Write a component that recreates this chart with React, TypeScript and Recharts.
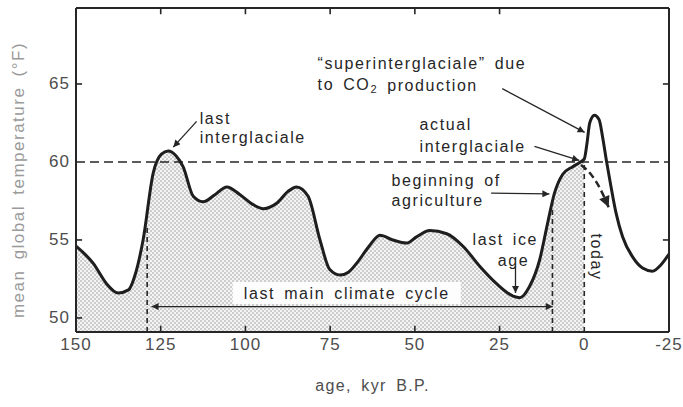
import React from "react";
import {
  ComposedChart,
  Area,
  Line,
  XAxis,
  YAxis,
  ReferenceLine,
  ReferenceDot,
} from "recharts";

// global temperature curve (age in kyr B.P., temp in °F)
const ages = [
  150, 144.9, 141, 137.6, 134.5, 132.5, 130.2, 127.2, 124.8, 122.8, 120.5,
  118.4, 115.4, 112.5, 109, 105.5, 101.6, 98, 94.7, 90.8, 87.5, 84.9, 81.5, 78,
  75.1, 72.1, 69.5, 67.2, 63.5, 60.3, 56.5, 52.5, 49.5, 45.6, 40.6, 35.8, 30.8,
  25.9, 21, 19, 16.2, 13.2, 10.8, 8.8, 6.4, 3.4, 1.5, 0, -0.8, -1.6, -3, -4.4,
  -5.4, -6.6, -7.9, -9.4, -11.3, -14.3, -17.2, -20.1, -22.6, -25,
];
const temps = [
  54.6, 53.5, 52.2, 51.6, 51.8, 52.8, 55.0, 59.3, 60.5, 60.7, 60.4, 59.7, 57.8,
  57.45, 57.9, 58.4, 57.9, 57.3, 57.0, 57.35, 58.1, 58.4, 57.8, 55.0, 53.1,
  52.75, 52.95, 53.5, 54.6, 55.3, 55.0, 54.8, 55.2, 55.6, 55.4, 54.6, 53.3,
  52.2, 51.4, 51.3, 52.0, 53.7, 56.1, 58.0, 59.2, 59.7, 59.95, 60.2, 61.2, 62.5,
  63.0, 62.7, 61.6, 60.0, 58.4, 56.7, 55.2, 53.9, 53.2, 53.0, 53.4, 54.1,
];

const xDomain = [-25, 150];
const xTicks = [150, 125, 100, 75, 50, 25, 0, -25];
const innerXTicks = [125, 100, 75, 50, 25];
const yTicks = [50, 55, 60, 65];
const leftTickMarks = [50, 55, 65];
const rightTickMarks = [55, 65];
const yDomain = [49.1, 69.87];
// inward tick length in data units (about 6 px each way)
const xTickLen = 1.8;
const yTickLen = 0.4;

// arrows (start -> tip)
const arrowLastInter = [
  { age: 114.4, temp: 62.6 },
  { age: 121.3, temp: 60.95 },
];
const arrowSuper = [
  { age: 24.2, temp: 64.7 },
  { age: -0.1, temp: 61.9 },
];
const arrowActual = [
  { age: 14.7, temp: 61.0 },
  { age: 1.5, temp: 60.1 },
];
const arrowAgri = [
  { age: 27.5, temp: 58.0 },
  { age: 10.3, temp: 57.95 },
];
const arrowIceAge = [
  { age: 20.3, temp: 53.3 },
  { age: 20.3, temp: 51.6 },
];
const cycleSpan = [
  { age: 127.7, temp: 50.73 },
  { age: 9.3, temp: 50.73 },
];
const naturalTrend = [
  { age: 0.96, temp: 59.8 },
  { age: -2.0, temp: 59.2 },
  { age: -4.4, temp: 58.4 },
  { age: -7.2, temp: 57.1 },
];

// dashed verticals: 130 kyr, end of ice age, today
const cycleStart = 129;
const cycleEnd = 9.4;
const today = 0;

const FONT = '"Liberation Sans", Arial, Helvetica, sans-serif';
const INK = "#262626";
const GREY = "#4d4d4d";

const data = ages.map((age, i) => ({
  age,
  temp: temps[i],
  past: age >= 0 ? temps[i] : null,
}));

function BottomTick(p: any) {
  return (
    <text
      x={p.x}
      y={p.y + 7}
      textAnchor="middle"
      dominantBaseline="central"
      fill={GREY}
      fontFamily={FONT}
      fontSize={17}
      letterSpacing={1}
    >
      {p.payload.value}
    </text>
  );
}

function LeftTick(p: any) {
  return (
    <text
      x={p.x}
      y={p.y}
      textAnchor="end"
      dominantBaseline="central"
      fill={GREY}
      fontFamily={FONT}
      fontSize={17}
      letterSpacing={1}
    >
      {p.payload.value}
    </text>
  );
}

function tickMark(key: string, seg: { x: number; y: number }[]) {
  return (
    <ReferenceLine key={key} segment={seg} stroke={INK} strokeWidth={1.6} ifOverflow="visible" />
  );
}

function noteText(
  vb: any,
  text: React.ReactNode,
  anchor: "start" | "middle" | "end",
  rotate: number,
  bgWidth: number
) {
  if (!vb) return null;
  const x = vb.x + (vb.width || 0) / 2;
  const y = vb.y + (vb.height || 0) / 2;
  return (
    <g>
      {bgWidth > 0 && (
        <rect x={x - bgWidth / 2} y={y - 11} width={bgWidth} height={22} fill="#fdfdfd" />
      )}
      <text
        x={x}
        y={y}
        textAnchor={anchor}
        dominantBaseline="central"
        transform={rotate ? `rotate(${rotate} ${x} ${y})` : undefined}
        fill={INK}
        fontFamily={FONT}
        fontSize={16}
        letterSpacing={1.6}
        wordSpacing={3}
      >
        {text}
      </text>
    </g>
  );
}

function note(
  key: string,
  age: number,
  temp: number,
  text: React.ReactNode,
  anchor: "start" | "middle" | "end" = "start",
  rotate = 0,
  bgWidth = 0
) {
  return (
    <ReferenceDot
      key={key}
      x={age}
      y={temp}
      r={0}
      fill="none"
      stroke="none"
      ifOverflow="visible"
      label={{ content: (p: any) => noteText(p.viewBox, text, anchor, rotate, bgWidth) }}
    />
  );
}

function arrow(key: string, pts: { age: number; temp: number }[], both = false) {
  return (
    <Line
      key={key}
      data={pts}
      dataKey="temp"
      type="linear"
      stroke={INK}
      strokeWidth={1.3}
      dot={false}
      activeDot={false}
      markerEnd="url(#head)"
      markerStart={both ? "url(#head)" : undefined}
      isAnimationActive={false}
    />
  );
}

export default function App() {
  return (
    <div style={{ width: 683, height: 407, background: "#fff" }}>
      <style>{`body{margin:0;background:#fff}`}</style>
      <ComposedChart
        width={683}
        height={407}
        data={data}
        margin={{ top: 7, right: 13, bottom: 0, left: 0 }}
      >
        <defs>
          <pattern id="stipple" width="4" height="4" patternUnits="userSpaceOnUse">
            <rect width="4" height="4" fill="#f4f4f4" />
            <circle cx="1" cy="1" r="0.7" fill="#8a8a8a" />
            <circle cx="3" cy="3" r="0.7" fill="#8a8a8a" />
          </pattern>
          <marker
            id="head"
            viewBox="0 0 10 10"
            refX="10"
            refY="5"
            markerWidth="10"
            markerHeight="7"
            markerUnits="userSpaceOnUse"
            orient="auto-start-reverse"
          >
            <path d="M0,0 L10,5 L0,10 Z" fill={INK} />
          </marker>
          <marker
            id="bighead"
            viewBox="0 0 10 10"
            refX="10"
            refY="5"
            markerWidth="14"
            markerHeight="11"
            markerUnits="userSpaceOnUse"
            orient="auto"
          >
            <path d="M0,0 L10,5 L0,10 Z" fill={INK} />
          </marker>
        </defs>

        <ReferenceLine y={60} stroke={INK} strokeWidth={1.5} strokeDasharray="9 5" />

        <Area
          dataKey="past"
          type="monotone"
          fill="url(#stipple)"
          fillOpacity={1}
          stroke="none"
          isAnimationActive={false}
        />

        <XAxis
          dataKey="age"
          type="number"
          domain={xDomain}
          reversed
          ticks={xTicks}
          interval={0}
          height={75}
          tickSize={0}
          tickMargin={5}
          tickLine={false}
          axisLine={{ stroke: INK, strokeWidth: 2 }}
          tick={<BottomTick />}
          label={{
            content: (p: any) =>
              p.viewBox ? (
                <text
                  x={p.viewBox.x + p.viewBox.width / 2}
                  y={p.viewBox.y + 53}
                  textAnchor="middle"
                  dominantBaseline="central"
                  fill={GREY}
                  fontFamily={FONT}
                  fontSize={16}
                  letterSpacing={1.3}
                  wordSpacing={4}
                >
                  age, kyr B.P.
                </text>
              ) : null,
          }}
        />
        <XAxis
          xAxisId="top"
          orientation="top"
          dataKey="age"
          type="number"
          domain={xDomain}
          reversed
          height={1}
          tick={false}
          tickLine={false}
          axisLine={{ stroke: INK, strokeWidth: 2 }}
        />
        <YAxis
          type="number"
          domain={yDomain}
          ticks={yTicks}
          interval={0}
          width={76}
          tickSize={0}
          tickMargin={6}
          tickLine={false}
          allowDataOverflow
          axisLine={{ stroke: INK, strokeWidth: 2 }}
          tick={<LeftTick />}
          label={{
            content: (p: any) =>
              p.viewBox ? (
                <text
                  x={18}
                  y={p.viewBox.y + p.viewBox.height / 2 + 10}
                  transform={`rotate(-90 18 ${p.viewBox.y + p.viewBox.height / 2 + 10})`}
                  textAnchor="middle"
                  dominantBaseline="central"
                  fill="#9a9a9a"
                  fontFamily={FONT}
                  fontSize={17}
                  letterSpacing={1.5}
                  wordSpacing={4}
                >
                  mean global temperature (°F)
                </text>
              ) : null,
          }}
        />
        <YAxis
          yAxisId="right"
          orientation="right"
          type="number"
          domain={yDomain}
          width={1}
          tick={false}
          tickLine={false}
          allowDataOverflow
          axisLine={{ stroke: INK, strokeWidth: 2 }}
        />

        {/* inward tick marks on all four sides */}
        {innerXTicks.map((t) =>
          tickMark(`b${t}`, [
            { x: t, y: yDomain[0] },
            { x: t, y: yDomain[0] + yTickLen },
          ])
        )}
        {innerXTicks.map((t) =>
          tickMark(`t${t}`, [
            { x: t, y: yDomain[1] },
            { x: t, y: yDomain[1] - yTickLen },
          ])
        )}
        {leftTickMarks.map((v) =>
          tickMark(`l${v}`, [
            { x: xDomain[1], y: v },
            { x: xDomain[1] - xTickLen, y: v },
          ])
        )}
        {rightTickMarks.map((v) =>
          tickMark(`r${v}`, [
            { x: xDomain[0], y: v },
            { x: xDomain[0] + xTickLen, y: v },
          ])
        )}

        <ReferenceLine
          segment={[
            { x: cycleStart, y: yDomain[0] },
            { x: cycleStart, y: 56.0 },
          ]}
          stroke={INK}
          strokeWidth={1.6}
          strokeDasharray="5 4"
        />
        <ReferenceLine
          segment={[
            { x: cycleEnd, y: yDomain[0] },
            { x: cycleEnd, y: 57.4 },
          ]}
          stroke={INK}
          strokeWidth={1.6}
          strokeDasharray="5 4"
        />
        <ReferenceLine
          segment={[
            { x: today, y: yDomain[0] },
            { x: today, y: 60.1 },
          ]}
          stroke={INK}
          strokeWidth={1.6}
          strokeDasharray="5 4"
        />

        {note("cycle", 70.1, 51.6, "last main climate cycle", "middle", 0, 228)}
        {arrow("cycleSpan", cycleSpan, true)}

        <Line
          dataKey="temp"
          type="monotone"
          stroke="#1e1e1e"
          strokeWidth={3}
          dot={false}
          activeDot={false}
          isAnimationActive={false}
        />

        <Line
          data={naturalTrend}
          dataKey="temp"
          type="monotone"
          stroke={INK}
          strokeWidth={2.5}
          strokeDasharray="7 4"
          dot={false}
          activeDot={false}
          markerEnd="url(#bighead)"
          isAnimationActive={false}
        />

        {arrow("a1", arrowLastInter)}
        {arrow("a2", arrowSuper)}
        {arrow("a3", arrowActual)}
        {arrow("a4", arrowAgri)}
        {arrow("a5", arrowIceAge)}

        {note("li1", 113.5, 62.8, "last")}
        {note("li2", 113.5, 61.6, "interglaciale")}
        {note("su1", 78.7, 66.3, "“superinterglaciale” due")}
        {note(
          "su2",
          78.7,
          64.95,
          <>
            to CO
            <tspan dy={4} fontSize={11}>
              2
            </tspan>
            <tspan dy={-4}> production</tspan>
          </>
        )}
        {note("ac1", 48.6, 62.37, "actual")}
        {note("ac2", 48.6, 61.0, "interglaciale")}
        {note("ag1", 56.9, 58.8, "beginning of")}
        {note("ag2", 56.9, 57.5, "agriculture")}
        {note("ic1", 23.3, 55.06, "last ice", "middle")}
        {note("ic2", 20.9, 53.7, "age", "middle")}
        {note("today", -3.5, 53.9, "today", "middle", 90)}
      </ComposedChart>
    </div>
  );
}
